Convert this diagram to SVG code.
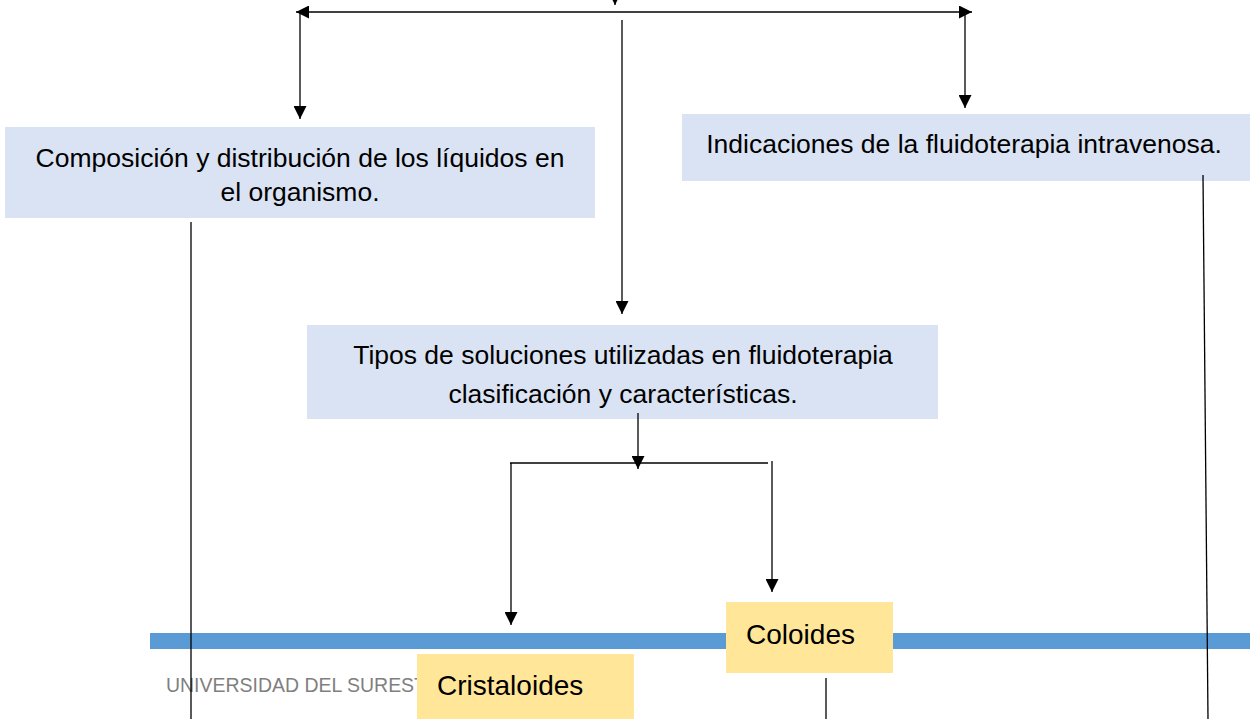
<svg xmlns="http://www.w3.org/2000/svg" width="1250" height="719" viewBox="0 0 1250 719">
<style>
.box{fill:#dae3f3}
.ybox{fill:#ffe699}
.t{font-family:"Liberation Sans",Arial,sans-serif;font-size:26.5px;fill:#000;text-anchor:middle}
.ty{font-family:"Liberation Sans",Arial,sans-serif;font-size:28px;fill:#000}
.ln{stroke:#000;stroke-width:1.3;fill:none}
</style>
<defs>
<marker id="ah" viewBox="0 0 10 10" refX="10" refY="5" markerWidth="14" markerHeight="13" markerUnits="userSpaceOnUse" orient="auto">
<path d="M0,0 L10,5 L0,10 z" fill="#000"/>
</marker>
</defs>
<rect x="0" y="0" width="1250" height="719" fill="#fff"/>
<rect x="150" y="633" width="1100" height="16" fill="#5b9bd5"/>
<text x="166" y="692" textLength="260" lengthAdjust="spacingAndGlyphs" style="font-family:'Liberation Sans',Arial,sans-serif;font-size:21px;fill:#7f7f7f">UNIVERSIDAD DEL SUREST</text>
<g id="n1"><rect class="box" x="5" y="127" width="590" height="91"/>
<text class="t" x="300" y="167">Composición y distribución de los líquidos en</text>
<text class="t" x="300" y="201">el organismo.</text></g>
<g id="n2"><rect class="box" x="682" y="114" width="568" height="67"/>
<text class="t" x="964" y="153">Indicaciones de la fluidoterapia intravenosa.</text></g>
<g id="n3"><rect class="box" x="307" y="325" width="631" height="94"/>
<text class="t" x="623" y="364">Tipos de soluciones utilizadas en fluidoterapia</text>
<text class="t" x="623" y="403">clasificación y características.</text></g>
<g id="n4"><rect class="ybox" x="726" y="602" width="167" height="71"/>
<text class="ty" x="746" y="644">Coloides</text></g>
<g id="n5"><rect class="ybox" x="417" y="654" width="217" height="65"/>
<text class="ty" x="437" y="695">Cristaloides</text></g>
<g id="connectors">
<line class="ln" x1="615" y1="0" x2="615" y2="5" marker-end="url(#ah)"/>
<line class="ln" x1="600" y1="12" x2="296" y2="12" marker-end="url(#ah)"/>
<line class="ln" x1="600" y1="12" x2="972" y2="12" marker-end="url(#ah)"/>
<line class="ln" x1="300" y1="12" x2="300" y2="119" marker-end="url(#ah)"/>
<line class="ln" x1="965" y1="12" x2="965" y2="108" marker-end="url(#ah)"/>
<line class="ln" x1="622" y1="20" x2="622" y2="314" marker-end="url(#ah)"/>
<line class="ln" x1="638" y1="413" x2="638" y2="469" marker-end="url(#ah)"/>
<line class="ln" x1="510" y1="463" x2="768" y2="463"/>
<line class="ln" x1="511" y1="463" x2="511" y2="625" marker-end="url(#ah)"/>
<line class="ln" x1="772" y1="461" x2="772" y2="592" marker-end="url(#ah)"/>
<line class="ln" x1="191" y1="222" x2="191" y2="719"/>
<line class="ln" x1="1203" y1="175" x2="1208" y2="719"/>
<line class="ln" x1="826" y1="678" x2="826" y2="719"/>
</g>
</svg>
